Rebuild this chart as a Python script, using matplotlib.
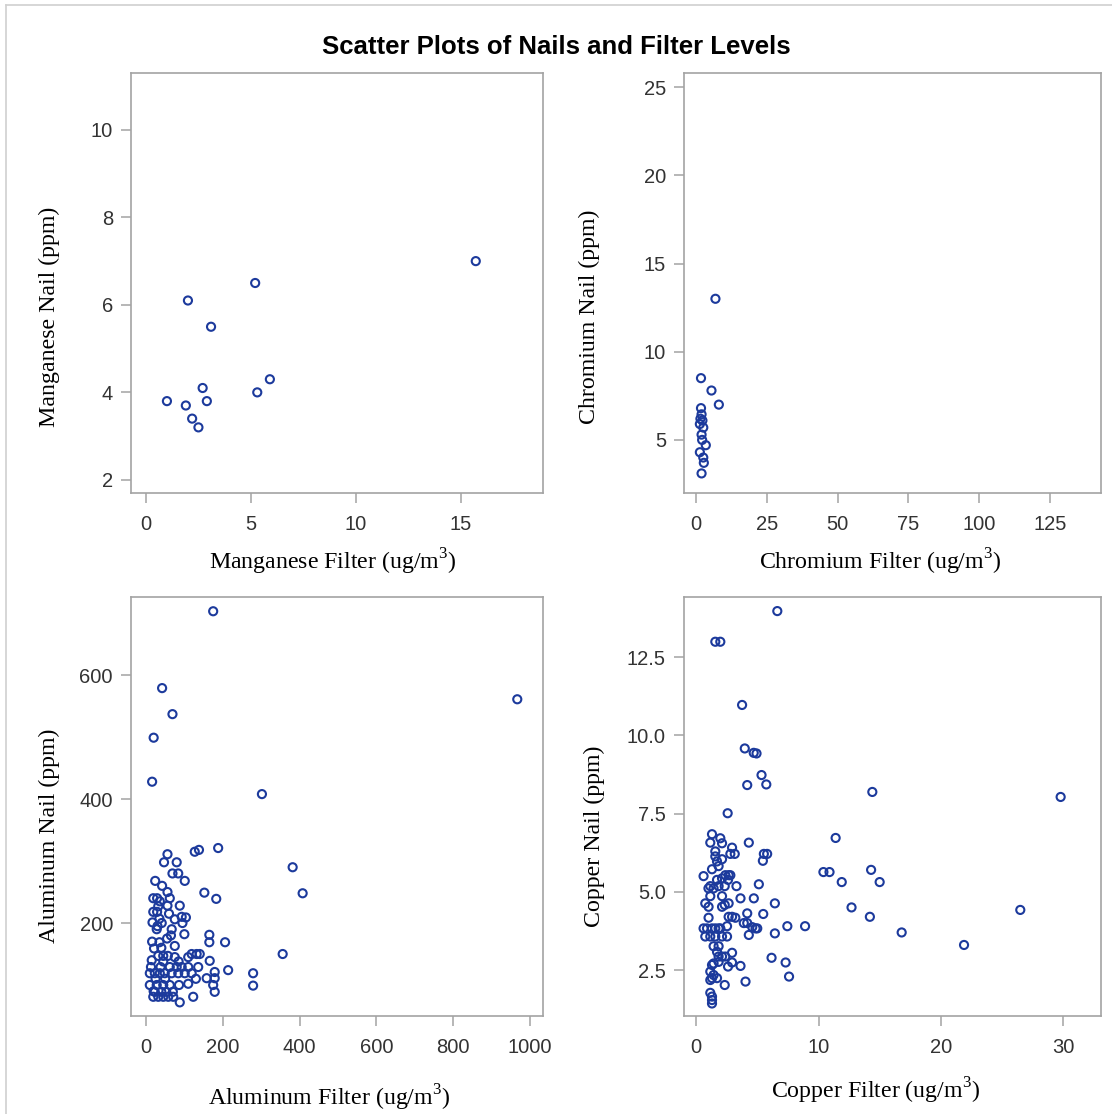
import matplotlib
matplotlib.use("Agg")
import matplotlib.pyplot as plt
from matplotlib.lines import Line2D
from matplotlib.ticker import FormatStrFormatter

plt.rcParams["mathtext.fontset"] = "custom"
plt.rcParams["mathtext.rm"] = "Liberation Serif"

# manganese
mn_filter = [1.0, 2.0, 1.9, 2.2, 2.5, 2.7, 2.9, 3.1, 5.2, 5.3, 5.9, 15.7]
mn_nail = [3.8, 6.1, 3.7, 3.4, 3.2, 4.1, 3.8, 5.5, 6.5, 4.0, 4.3, 7.0]

# chromium
cr_filter = [6.9, 1.8, 5.5, 8.1, 1.8, 2.0, 2.3, 1.4, 2.6, 2.0, 3.5, 1.4, 2.6, 2.8, 2.0, 2.2, 1.6]
cr_nail = [13.0, 8.5, 7.8, 7.0, 6.8, 6.45, 6.1, 5.9, 5.7, 5.3, 4.7, 4.3, 4.0, 3.7, 3.1, 5.0, 6.2]

# aluminum
al_filter = [175, 42, 69, 20, 16, 302, 967,
             188, 127, 138, 56, 47, 80, 69, 84, 101, 24, 42, 56, 152, 183, 382, 408,
             19, 29, 36, 62, 32, 56, 88, 19, 29,
             93, 104, 75, 35, 17, 41, 95, 67, 28, 100, 165, 165, 206, 16, 35, 75, 21, 65,
             356, 119, 132, 140, 75, 110, 32, 45, 57, 166,
             13, 38, 62, 80, 93, 110, 136, 214,
             10, 23, 36, 49, 67, 84, 101, 119, 179, 158, 179, 279, 279,
             10, 28, 45, 62, 86, 175, 179,
             23, 40, 53, 70, 19, 32, 45, 58, 71, 123, 88,
             25, 50, 15, 40, 55, 30, 60, 45, 85, 20, 110, 130]
al_nail = [703, 579, 537, 499, 428, 408, 561,
           321, 315, 318, 311, 298, 298, 280, 280, 268, 268, 260, 250, 249, 239, 290, 248,
           240, 240, 235, 240, 227, 228, 228, 218, 218,
           210, 209, 206, 207, 201, 200, 200, 190, 190, 182, 181, 169, 169, 170, 169, 163, 159, 180,
           150, 150, 150, 150, 145, 145, 147, 147, 147, 139,
           129, 129, 129, 129, 129, 129, 129, 124,
           119, 119, 119, 119, 119, 119, 119, 119, 121, 111, 111, 119, 99,
           100, 100, 100, 100, 100, 100, 89,
           89, 89, 89, 89, 81, 81, 81, 81, 81, 81, 72,
           110, 110, 140, 160, 175, 195, 215, 138, 138, 90, 102, 110]

# copper
cu_filter = [6.63, 1.56, 1.97, 3.75, 3.97, 4.7, 4.93, 5.34, 4.17, 5.73, 14.4, 29.8, 11.4, 10.4, 10.9,
             11.9, 15.0, 14.3, 12.7, 14.2, 26.5, 16.8, 21.9,
             2.57, 1.29, 1.15, 1.97, 2.11, 4.3, 2.93, 3.15, 2.79, 1.56, 1.56, 1.7, 5.53, 5.8, 5.45,
             2.11, 1.83, 1.29, 0.6, 2.38, 2.65, 2.79, 1.7, 2.11, 2.6, 1.15, 1.0, 1.42, 1.83, 2.33,
             3.29, 5.12, 1.15, 2.11, 3.62, 4.71, 6.43, 0.74, 1.01, 2.11, 2.33, 2.65, 4.17, 5.48,
             2.65, 2.93, 3.2, 1.01,
             0.6, 0.88, 1.29, 1.56, 1.83, 1.97, 2.52, 3.89, 4.17, 4.58, 4.85, 4.99, 4.3, 6.43,
             7.45, 8.9,
             0.74, 1.15, 1.56, 2.11, 2.52, 1.42, 1.83, 1.7, 2.93, 1.83, 2.11, 2.38, 6.16, 1.42,
             1.29, 1.83, 2.93, 3.62, 2.6, 7.31, 1.15, 1.42, 1.29, 1.15, 1.7, 2.33, 4.03, 7.59,
             1.15, 1.29, 1.29, 1.29]
cu_nail = [13.97, 12.99, 12.99, 10.97, 9.58, 9.44, 9.42, 8.73, 8.41, 8.43, 8.19, 8.03, 6.72, 5.63, 5.63,
           5.31, 5.31, 5.7, 4.5, 4.2, 4.42, 3.7, 3.3,
           7.51, 6.84, 6.57, 6.71, 6.55, 6.57, 6.41, 6.21, 6.21, 6.29, 6.13, 5.97, 6.21, 6.21, 5.99,
           6.04, 5.82, 5.72, 5.5, 5.53, 5.53, 5.53, 5.38, 5.43, 5.38, 5.18, 5.11, 5.11, 5.18, 5.18,
           5.18, 5.24, 4.86, 4.86, 4.79, 4.79, 4.63, 4.63, 4.52, 4.52, 4.58, 4.63, 4.31, 4.29,
           4.2, 4.2, 4.17, 4.17,
           3.83, 3.83, 3.83, 3.83, 3.83, 3.83, 3.9, 4.0, 4.0, 3.87, 3.83, 3.83, 3.62, 3.67,
           3.9, 3.9,
           3.57, 3.57, 3.57, 3.57, 3.57, 3.26, 3.26, 3.08, 3.05, 2.93, 2.93, 2.93, 2.89, 2.71,
           2.66, 2.76, 2.74, 2.63, 2.61, 2.74, 2.45, 2.34, 2.24, 2.18, 2.24, 2.02, 2.13, 2.29,
           1.77, 1.65, 1.54, 1.43]

W, H = 1112, 1114
mark = "#1C3A9C"
grey = "#A3A3A3"
tickfont = ["Liberation Sans Narrow", "Liberation Sans", "DejaVu Sans"]
labfont = ["Liberation Serif", "DejaVu Serif"]

fig = plt.figure(figsize=(W / 100, H / 100), dpi=100)


def box(l, t, r, b):
    return [l / W, 1 - b / H, (r - l) / W, (b - t) / H]


def setup(ax, x, y, xlim, ylim, xticks, yticks, xlab, ylab, xlc, ylc):
    ax.scatter(x, y, s=34, facecolors="none", edgecolors=mark, linewidths=1.5, zorder=3)
    ax.set_xlim(*xlim)
    ax.set_ylim(*ylim)
    ax.set_xticks(xticks)
    ax.set_yticks(yticks)
    for sp in ax.spines.values():
        sp.set_color(grey)
        sp.set_linewidth(1.2)
    ax.tick_params(length=7, width=1.1, color=grey, labelcolor="#333333", labelsize=14.5)
    ax.tick_params(axis="x", pad=9)
    ax.tick_params(axis="y", pad=6)
    for lab in ax.get_xticklabels() + ax.get_yticklabels():
        lab.set_family(tickfont)
    ax.set_xlabel(xlab, family=labfont, fontsize=17.2, color="black")
    ax.set_ylabel(ylab, family=labfont, fontsize=17.2, color="black")
    ax.xaxis.set_label_coords(*xlc)
    ax.yaxis.set_label_coords(*ylc)


ax1 = fig.add_axes(box(131, 73, 543, 493))
setup(ax1, mn_filter, mn_nail, (-0.71, 18.9), (1.70, 11.30), [0, 5, 10, 15], [2, 4, 6, 8, 10],
      r"Manganese Filter (ug/m$^{3}$)", "Manganese Nail (ppm)", (0.49, -0.128), (-0.173, 0.42))

ax2 = fig.add_axes(box(684, 73, 1101, 493))
setup(ax2, cr_filter, cr_nail, (-4.2, 143), (1.99, 25.8), [0, 25, 50, 75, 100, 125], [5, 10, 15, 20, 25],
      r"Chromium Filter (ug/m$^{3}$)", "Chromium Nail (ppm)", (0.47, -0.128), (-0.201, 0.42))

ax3 = fig.add_axes(box(131, 597, 543, 1016))
setup(ax3, al_filter, al_nail, (-39, 1034), (50, 726), [0, 200, 400, 600, 800, 1000], [200, 400, 600],
      r"Aluminum Filter (ug/m$^{3}$)", "Aluminum Nail (ppm)", (0.48, -0.16), (-0.173, 0.43))

ax4 = fig.add_axes(box(684, 597, 1101, 1016))
setup(ax4, cu_filter, cu_nail, (-1.0, 33.1), (1.03, 14.42), [0, 10, 20, 30], [2.5, 5.0, 7.5, 10.0, 12.5],
      r"Copper Filter (ug/m$^{3}$)", "Copper Nail (ppm)", (0.46, -0.143), (-0.189, 0.43))
ax4.yaxis.set_major_formatter(FormatStrFormatter("%.1f"))
for lab in ax4.get_yticklabels():
    lab.set_family(tickfont)

fig.text(0.5, 1 - 47 / H, "Scatter Plots of Nails and Filter Levels", ha="center", va="center",
         fontsize=18.5, fontweight="bold", family=["Liberation Sans", "DejaVu Sans"])

# outer frame (left and top edges visible)
fig.add_artist(Line2D([6 / W, 6 / W], [0, 1 - 5 / H], color="#D0D0D0", lw=1.2))
fig.add_artist(Line2D([6 / W, 1], [1 - 5 / H, 1 - 5 / H], color="#D0D0D0", lw=1.2))

fig.savefig("out.png", dpi=100)
